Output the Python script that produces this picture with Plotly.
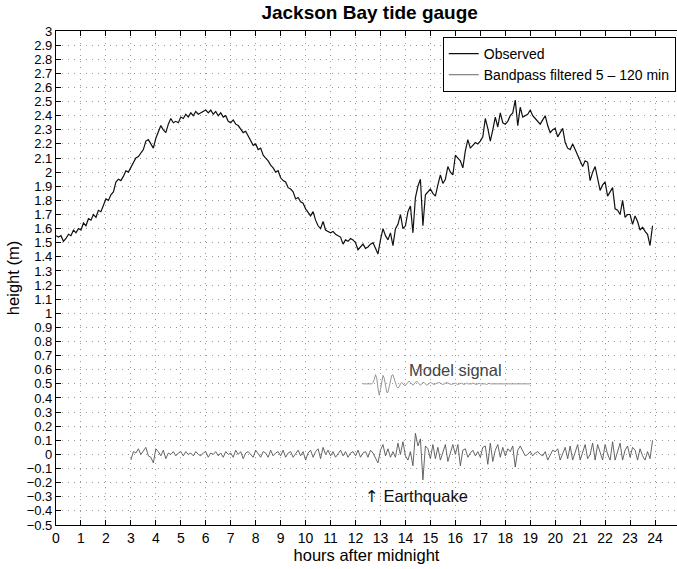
import numpy as np
import plotly.graph_objects as go

# ---------------- data ----------------
obs_t0, obs_dt = 0.0, 0.1
observed = [
    1.55, 1.54, 1.55, 1.51, 1.53, 1.56, 1.55, 1.59, 1.57, 1.60,
    1.59, 1.64, 1.62, 1.67, 1.66, 1.70, 1.68, 1.73, 1.72, 1.76,
    1.81, 1.80, 1.84, 1.86, 1.93, 1.95, 1.94, 1.97, 2.01, 2.00,
    2.03, 2.06, 2.10, 2.11, 2.14, 2.16, 2.22, 2.23, 2.20, 2.17,
    2.24, 2.29, 2.33, 2.30, 2.28, 2.34, 2.38, 2.35, 2.36, 2.35,
    2.39, 2.38, 2.41, 2.39, 2.42, 2.40, 2.43, 2.41, 2.42, 2.43,
    2.44, 2.42, 2.44, 2.41, 2.43, 2.40, 2.42, 2.39, 2.40, 2.36,
    2.35, 2.37, 2.34, 2.33, 2.30, 2.28, 2.29, 2.26, 2.23, 2.19,
    2.20, 2.16, 2.17, 2.12, 2.10, 2.08, 2.05, 2.03, 2.00, 2.01,
    1.96, 1.94, 1.93, 1.89, 1.88, 1.86, 1.81, 1.82, 1.79, 1.78,
    1.74, 1.71, 1.69, 1.72, 1.66, 1.62, 1.60, 1.65, 1.59, 1.58,
    1.57, 1.58, 1.56, 1.55, 1.54, 1.49, 1.52, 1.51, 1.53, 1.52,
    1.50, 1.45, 1.47, 1.49, 1.46, 1.47, 1.49, 1.50, 1.46, 1.42,
    1.52, 1.60, 1.55, 1.52, 1.57, 1.48, 1.60, 1.63, 1.70, 1.60,
    1.62, 1.72, 1.76, 1.57, 1.82, 1.90, 1.95, 1.62, 1.84, 1.86,
    1.88, 1.85, 1.83, 1.91, 1.98, 1.92, 1.95, 2.04, 2.00, 1.98,
    2.12, 2.10, 2.08, 2.03, 2.15, 2.23, 2.17, 2.19, 2.21, 2.20,
    2.22, 2.25, 2.38, 2.31, 2.22, 2.30, 2.39, 2.32, 2.42, 2.35,
    2.34, 2.36, 2.40, 2.42, 2.51, 2.33, 2.46, 2.39, 2.40, 2.41,
    2.44, 2.40, 2.38, 2.36, 2.34, 2.37, 2.40, 2.33, 2.28, 2.30,
    2.31, 2.25, 2.28, 2.31, 2.21, 2.17, 2.16, 2.20, 2.16, 2.12,
    2.09, 2.04, 2.08, 2.07, 1.94, 2.00, 2.04, 1.95, 1.87, 1.91,
    1.93, 1.83, 1.86, 1.89, 1.74, 1.73, 1.70, 1.80, 1.68, 1.70,
    1.70, 1.63, 1.69, 1.65, 1.59, 1.61, 1.58, 1.56, 1.48, 1.62,
]

bp_t0, bp_dt = 3.0, 0.1
bandpass = [
    -0.04, 0.02, 0.01, 0.04, -0.00, 0.03, 0.05, -0.01, -0.02, -0.06,
    0.04, 0.02, -0.01, 0.03, -0.03, 0.01, 0.00, 0.02, -0.01, 0.01,
    0.02, -0.01, 0.02, 0.00, 0.01, -0.01, 0.02, 0.00, -0.01, 0.01,
    0.02, -0.02, 0.01, 0.00, 0.02, -0.01, 0.01, -0.02, 0.02, 0.00,
    0.01, -0.02, 0.03, 0.00, 0.02, -0.03, 0.01, 0.02, 0.00, -0.02,
    0.03, 0.00, -0.02, 0.02, 0.01, -0.02, 0.03, -0.01, 0.01, 0.02,
    -0.01, 0.03, -0.02, 0.01, 0.02, -0.02, 0.01, 0.03, -0.01, 0.02,
    -0.04, 0.01, 0.03, -0.02, 0.02, 0.04, -0.03, 0.05, 0.00, 0.03,
    -0.01, 0.02, -0.02, 0.01, 0.03, -0.01, 0.02, -0.02, 0.01, 0.02,
    -0.01, 0.03, -0.02, 0.01, 0.02, -0.02, 0.03, 0.01, -0.02, -0.06,
    0.03, 0.07, -0.01, 0.04, -0.02, 0.02, -0.02, 0.08, 0.00, 0.09,
    -0.01, -0.04, 0.02, -0.08, 0.15, 0.06, 0.11, -0.18, 0.06, 0.04,
    -0.03, 0.07, -0.03, 0.05, -0.04, 0.01, 0.07, -0.05, 0.02, 0.07,
    0.00, 0.07, -0.08, 0.03, 0.04, -0.02, 0.01, 0.03, -0.01, 0.02,
    -0.02, 0.05, 0.06, -0.07, 0.08, -0.05, 0.03, 0.07, -0.02, 0.05,
    -0.01, 0.04, 0.02, 0.06, -0.09, 0.03, 0.06, 0.02, -0.01, 0.00,
    0.02, -0.01, 0.01, 0.02, 0.00, -0.01, 0.02, -0.04, 0.00, 0.03,
    0.02, 0.04, -0.04, 0.01, 0.05, -0.03, 0.06, -0.04, 0.01, 0.07,
    -0.04, 0.02, 0.07, -0.03, 0.00, 0.08, -0.04, 0.07, 0.01, -0.04,
    0.07, 0.00, -0.04, 0.09, -0.04, 0.02, 0.08, -0.04, 0.03, 0.06,
    -0.02, 0.05, 0.03, -0.04, 0.04, -0.01, -0.04, 0.02, -0.03, 0.10,
]

model_t0, model_dt = 12.3, 0.05
model = [
    0.50, 0.50, 0.50, 0.50, 0.50, 0.50, 0.50, 0.50, 0.51, 0.53,
    0.565, 0.54, 0.47, 0.42, 0.46, 0.53, 0.56, 0.54, 0.48, 0.44,
    0.44, 0.48, 0.53, 0.56, 0.565, 0.54, 0.50, 0.48, 0.47, 0.48,
    0.50, 0.51, 0.50, 0.49, 0.49, 0.50, 0.51, 0.52, 0.51, 0.50,
    0.49, 0.50, 0.515, 0.52, 0.51, 0.50, 0.49, 0.50, 0.51, 0.51,
    0.50, 0.49, 0.495, 0.505, 0.51, 0.505, 0.50, 0.495, 0.50, 0.505,
    0.505, 0.51, 0.505, 0.50, 0.495, 0.50, 0.505, 0.51, 0.505, 0.50,
    0.495, 0.495, 0.50, 0.505, 0.505, 0.50, 0.495, 0.50, 0.505, 0.505,
    0.50, 0.495, 0.50, 0.505, 0.50, 0.50, 0.495, 0.50, 0.505, 0.50,
    0.50, 0.495, 0.50, 0.505, 0.50, 0.50, 0.50, 0.505, 0.50, 0.495,
    0.50, 0.505, 0.50, 0.50, 0.50, 0.505, 0.50, 0.50, 0.50, 0.50,
    0.505, 0.50, 0.50, 0.50, 0.50, 0.50, 0.505, 0.50, 0.50, 0.50,
    0.50, 0.50, 0.50, 0.50, 0.50, 0.50, 0.50, 0.50, 0.50, 0.50,
    0.50, 0.50, 0.50, 0.50, 0.50,
]

x_ticks = list(range(0, 25))
y_tick_vals = [round(-0.5 + 0.1 * i, 1) for i in range(36)]
y_tick_text = [("\u2212" + f"{abs(v):g}") if v < 0 else f"{v:g}" for v in y_tick_vals]

t_obs = obs_t0 + obs_dt * np.arange(len(observed))
t_bp = bp_t0 + bp_dt * np.arange(len(bandpass))
t_model = model_t0 + model_dt * np.arange(len(model))

FONT = "Liberation Sans, Arial, Helvetica, sans-serif"

fig = go.Figure()
fig.add_trace(go.Scatter(x=t_obs, y=observed, mode="lines", name="Observed",
                         line=dict(color="#111111", width=1.2)))
fig.add_trace(go.Scatter(x=t_bp, y=bandpass, mode="lines", name="Bandpass filtered 5 \u2013 120 min",
                         line=dict(color="#555555", width=0.9)))
fig.add_trace(go.Scatter(x=t_model, y=model, mode="lines", name="Model signal", showlegend=False,
                         line=dict(color="#8a8a8a", width=0.9)))

fig.add_annotation(x=16.0, y=0.598, text="Model signal", showarrow=False,
                   font=dict(family=FONT, size=16.5, color="#444444"))
fig.add_annotation(x=12.3, y=-0.30, xanchor="left",
                   text="<span style='font-family:DejaVu Sans'>\u2191</span> Earthquake",
                   showarrow=False, font=dict(family=FONT, size=16.5, color="#111111"))

axis_common = dict(showline=True, linecolor="black", linewidth=1.2,
                   ticks="inside", ticklen=5, tickcolor="black",
                   showgrid=True, gridcolor="#9a9a9a", gridwidth=1, griddash="1px,5px",
                   zeroline=False)

fig.update_xaxes(range=[0, 24.88], tickvals=x_ticks, mirror="ticks",
                 tickfont=dict(family=FONT, size=14, color="black"),
                 title=dict(text="hours after midnight", font=dict(family=FONT, size=16.5, color="black"),
                            standoff=1),
                 **axis_common)
fig.update_yaxes(range=[-0.5, 3.0], tickvals=y_tick_vals, ticktext=y_tick_text, mirror=False,
                 tickfont=dict(family=FONT, size=13, color="black"),
                 title=dict(text="height (m)", font=dict(family=FONT, size=16.5, color="black"),
                            standoff=2),
                 **axis_common)

fig.update_layout(
    width=677, height=569,
    margin=dict(l=56, r=0, t=31, b=44),
    plot_bgcolor="white", paper_bgcolor="white",
    title=dict(text="<b>Jackson Bay tide gauge</b>", x=0.546, xanchor="center", y=0.978, yanchor="middle",
               font=dict(family=FONT, size=19, color="black")),
    legend=dict(x=0.998, y=0.988, xanchor="right", yanchor="top",
                bordercolor="black", borderwidth=1, bgcolor="white",
                font=dict(family=FONT, size=14, color="black"),
                tracegroupgap=0, itemwidth=30),
    showlegend=True,
)

fig.write_html("out.html")
